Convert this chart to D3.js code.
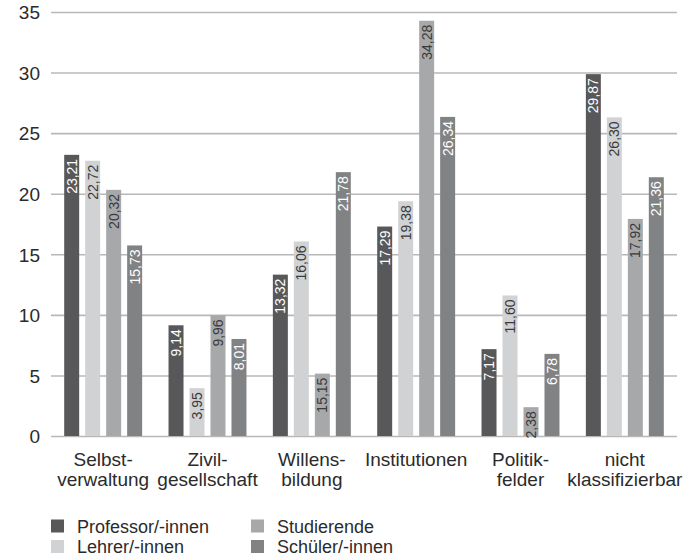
<!DOCTYPE html>
<html>
<head>
<meta charset="utf-8">
<script src="https://cdn.jsdelivr.net/npm/d3@7/dist/d3.min.js"></script>
<style>
  html, body { margin: 0; padding: 0; background: #fff; }
  svg { display: block; }
  text { font-family: "Liberation Sans", Arial, Helvetica, sans-serif; }
</style>
</head>
<body>
<svg id="chart" width="694" height="557"></svg>
<script>
const categories = [
  ["Selbst-", "verwaltung"],
  ["Zivil-", "gesellschaft"],
  ["Willens-", "bildung"],
  ["Institutionen"],
  ["Politik-", "felder"],
  ["nicht", "klassifizierbar"]
];
const seriesNames = ["Professor/-innen", "Lehrer/-innen", "Studierende", "Schüler/-innen"];
const professoren = [23.21, 9.14, 13.32, 17.29, 7.17, 29.87];
const lehrer      = [22.72, 3.95, 16.06, 19.38, 11.60, 26.30];
const studierende = [20.32, 9.96, 5.15, 34.28, 2.38, 17.92];
const schueler    = [15.73, 8.01, 21.78, 26.34, 6.78, 21.36];
// label text as printed in the source (one label differs from its bar)
const studierendeLabels = ["20,32", "9,96", "15,15", "34,28", "2,38", "17,92"];
const yTicks = [0, 5, 10, 15, 20, 25, 30, 35];

const seriesValues = [professoren, lehrer, studierende, schueler];
const colors = ["#58585a", "#d1d2d4", "#a7a8aa", "#818284"];
const labelColors = ["#ffffff", "#3a3a3a", "#3a3a3a", "#ffffff"];

const fmt = v => v.toFixed(2).replace(".", ",");

const svg = d3.select("#chart");
const catKeys = categories.map(c => c.join(""));

const x0 = d3.scaleBand().domain(catKeys).range([51, 677]).paddingInner(0.253).paddingOuter(0.1265);
const x1 = d3.scaleBand().domain(d3.range(4)).range([0, x0.bandwidth()]).paddingInner(0.286).paddingOuter(0);
const y = d3.scaleLinear().domain([0, 35]).range([436, 12]);

// grid lines + tick labels
const yAxis = d3.axisLeft(y).tickValues(yTicks).tickSize(-(677 - 51)).tickFormat(d3.format("d"));
const gy = svg.append("g").attr("transform", "translate(51,0)").call(yAxis);
gy.select(".domain").remove();
gy.selectAll(".tick line").attr("stroke", "#b8b8b8").attr("stroke-width", 1.6);
gy.selectAll(".tick text")
  .attr("x", -11).attr("dy", "0.36em")
  .attr("font-size", 19).attr("fill", "#2b2b2b")
  .attr("font-family", "'Liberation Sans', Arial, sans-serif");

// bars
const groups = svg.append("g").selectAll("g.grp")
  .data(categories.map((c, i) => ({ key: catKeys[i], i })))
  .join("g").attr("class", "grp")
  .attr("transform", d => `translate(${x0(d.key)},0)`);

groups.each(function(g) {
  const sel = d3.select(this);
  const data = seriesValues.map((vals, s) => ({
    s, v: vals[g.i],
    label: s === 2 ? studierendeLabels[g.i] : fmt(vals[g.i])
  }));
  sel.selectAll("rect").data(data).join("rect")
    .attr("x", d => x1(d.s))
    .attr("y", d => y(d.v))
    .attr("width", x1.bandwidth())
    .attr("height", d => y(0) - y(d.v))
    .attr("fill", d => colors[d.s]);
  sel.selectAll("text.val").data(data).join("text")
    .attr("class", "val")
    .attr("transform", d => `translate(${x1(d.s) + x1.bandwidth() / 2},${y(d.v) + 4}) rotate(-90)`)
    .attr("text-anchor", "end")
    .attr("dy", "0.36em")
    .attr("font-size", 14)
    .attr("fill", d => labelColors[d.s])
    .text(d => d.label);
});

// category labels
const xl = svg.append("g").selectAll("text.cat")
  .data(categories.map((c, i) => ({ lines: c, key: catKeys[i] })))
  .join("text").attr("class", "cat")
  .attr("text-anchor", "middle")
  .attr("font-size", 19).attr("fill", "#2b2b2b");
xl.selectAll("tspan").data(d => d.lines.map(l => ({ l, key: d.key })))
  .join("tspan")
  .attr("x", d => x0(d.key) + x0.bandwidth() / 2)
  .attr("y", (d, i) => 466 + i * 19.5)
  .text(d => d.l);

// legend
const legendPos = [[51, 0], [51, 1], [251, 0], [251, 1]];
const lg = svg.append("g").selectAll("g.leg").data(seriesNames).join("g")
  .attr("class", "leg")
  .attr("transform", (d, i) => `translate(${legendPos[i][0]},${519.5 + legendPos[i][1] * 20.5})`);
lg.append("rect").attr("width", 13).attr("height", 13).attr("fill", (d, i) => colors[i]);
lg.append("text").attr("x", 26).attr("y", 13).attr("font-size", 18).attr("fill", "#2b2b2b").text(d => d);
</script>
</body>
</html>
